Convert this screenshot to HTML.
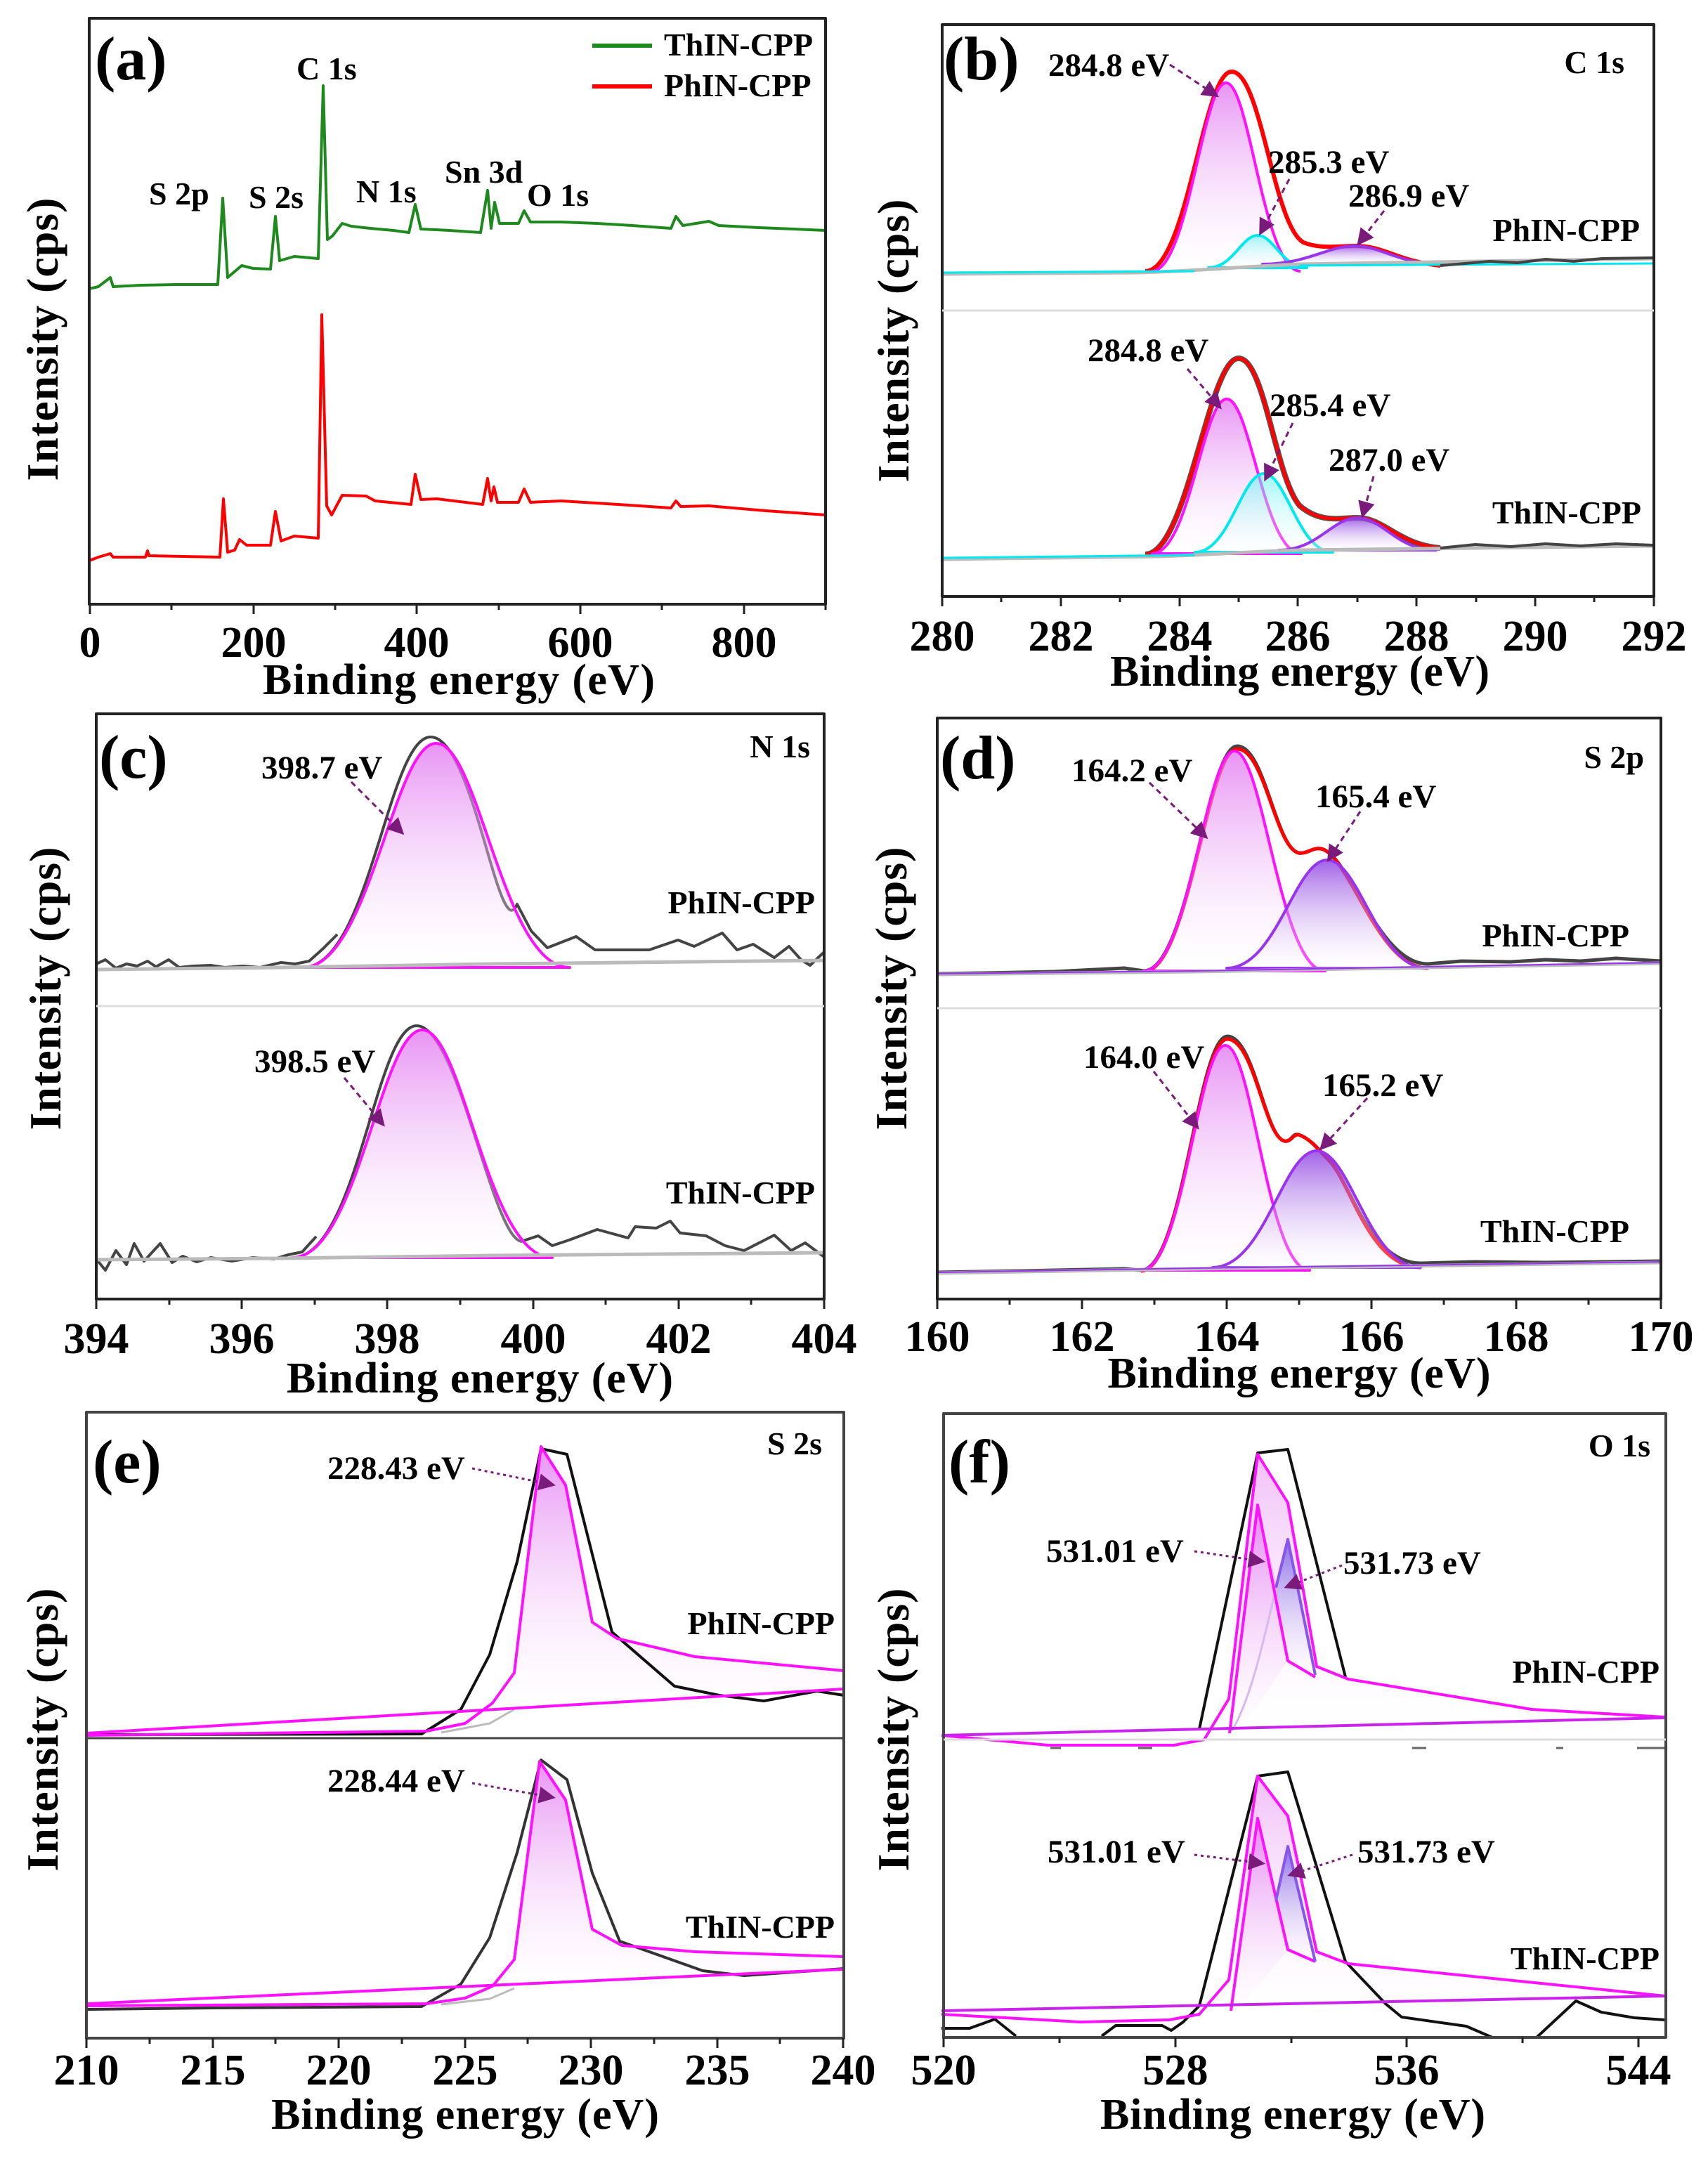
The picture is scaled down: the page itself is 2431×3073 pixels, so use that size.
<!DOCTYPE html>
<html><head><meta charset="utf-8"><style>html,body{margin:0;padding:0;background:#fff}svg{display:block}</style></head>
<body>
<svg width="2431" height="3073" viewBox="0 0 2431 3073" xmlns="http://www.w3.org/2000/svg" font-family="'Liberation Serif',serif" font-weight="bold">
<defs>
<linearGradient id="mg" x1="0" y1="0" x2="0" y2="1"><stop offset="0" stop-color="#e070f0" stop-opacity="0.75"/><stop offset="1" stop-color="#ffffff" stop-opacity="0.2"/></linearGradient>
<linearGradient id="pg" x1="0" y1="0" x2="0" y2="1"><stop offset="0" stop-color="#8a3ae0" stop-opacity="0.8"/><stop offset="1" stop-color="#ffffff" stop-opacity="0.2"/></linearGradient>
<linearGradient id="cg" x1="0" y1="0" x2="0" y2="1"><stop offset="0" stop-color="#60f0f0" stop-opacity="0.6"/><stop offset="1" stop-color="#ffffff" stop-opacity="0.2"/></linearGradient>
<linearGradient id="bg" x1="0" y1="0" x2="0" y2="1"><stop offset="0" stop-color="#6a50e0" stop-opacity="0.8"/><stop offset="1" stop-color="#ffffff" stop-opacity="0.2"/></linearGradient>
<marker id="ar" markerWidth="8" markerHeight="8" refX="6" refY="4" orient="auto" markerUnits="strokeWidth"><path d="M0,0 L8,4 L0,8 Z" fill="#7a1a7a"/></marker>
</defs>
<g fill="none" stroke-linejoin="round">

<!-- ===== (a) ===== -->
<polyline stroke="#1e8a1e" stroke-width="4" points="127,411 140,408 157,395 161,408 200,406 250,405 310,405 317,282 324,395 344,378 360,382 385,383 392,308 398,371 419,365 453,368 460,122 466,341 473,336 487,318 500,322 527,325 560,328 582,331 591,291 599,326 640,328 684,331 694,271 699,325 704,288 711,318 738,318 746,300 755,316 799,316 850,318 900,321 955,325 962,308 972,321 1009,315 1023,321 1080,324 1130,326 1176,328"/>
<polyline stroke="#ff0000" stroke-width="4" points="127,798 140,793 157,788 161,793 207,793 210,784 212,791 260,792 313,793 318,710 324,786 334,783 341,768 351,776 385,776 392,728 400,770 419,763 453,766 458,448 465,720 472,733 487,705 521,706 534,713 585,718 591,675 599,711 622,710 687,718 694,681 699,713 703,693 708,715 738,715 746,696 755,715 799,713 880,718 955,723 962,713 969,721 1009,720 1090,727 1176,733"/>
<rect x="127" y="26" width="1048" height="834" stroke="#222" stroke-width="4"/>
<line x1="843" y1="65" x2="928" y2="65" stroke="#1e8a1e" stroke-width="6"/>
<line x1="843" y1="123" x2="928" y2="123" stroke="#ff0000" stroke-width="6"/>
<path stroke="#222" stroke-width="3" d="M128,860v14M244,860v8M361,860v14M477,860v8M593,860v14M710,860v8M826,860v14M942,860v8M1059,860v14M1175,860v8"/>

<!-- ===== (b) ===== -->
<path d="M1630,386 C1690,386 1712,102 1753,102 C1795,102 1812,320 1855,345 C1880,355 1905,350 1930,350 C1970,350 1990,372 2050,378" stroke="#ff0000" stroke-width="6"/>
<path d="M1639,386 C1692,386 1711,118 1745,118 C1779,118 1798,386 1851,386 Z" fill="url(#mg)" stroke="none"/>
<path d="M1639,386 C1692,386 1711,118 1745,118 C1779,118 1798,386 1851,386" stroke="#ff10ff" stroke-width="4"/>
<path d="M1720,381 C1755,381 1767,335 1790,335 C1813,335 1825,381 1860,381 Z" fill="url(#cg)" stroke="#00e8f0" stroke-width="4"/>
<path d="M1797,376 C1860,376 1890,350 1928,350 C1966,350 1990,376 2053,376 Z" fill="url(#pg)" stroke="#9933ee" stroke-width="4"/>
<path d="M1341,390 L1620,388 C1700,386 1760,380 1850,376 L2354,368" stroke="#bbbbbb" stroke-width="5"/>
<path d="M1341,388 L1700,386 M1850,378 L2354,375" stroke="#00e8f0" stroke-width="3"/>
<path d="M2050,378 L2120,372 L2160,374 L2200,369 L2240,372 L2280,368 L2354,367" stroke="#444" stroke-width="4"/>
<path d="M1630,789 C1690,789 1720,510 1763,510 C1800,510 1815,680 1850,720 C1880,745 1905,737 1932,737 C1970,737 1990,775 2050,780" stroke="#555" stroke-width="8"/>
<path d="M1630,789 C1690,789 1720,510 1763,510 C1800,510 1815,680 1850,720 C1880,745 1905,737 1932,737 C1970,737 1990,775 2050,780" stroke="#ff0000" stroke-width="5"/>
<path d="M1640,788 C1693,788 1712,568 1746,568 C1780,568 1799,788 1852,788 Z" fill="url(#mg)" stroke="#ff10ff" stroke-width="4"/>
<path d="M1701,786 C1750,786 1767,674 1799,674 C1831,674 1848,786 1897,786 Z" fill="url(#cg)" stroke="#00e8f0" stroke-width="4"/>
<path d="M1820,783 C1876,783 1896,737 1932,737 C1968,737 1988,783 2044,783 Z" fill="url(#pg)" stroke="#9933ee" stroke-width="4"/>
<path d="M1341,796 L1650,792 C1720,790 1760,786 1850,783 L2354,777" stroke="#bbbbbb" stroke-width="5"/>
<path d="M1341,794 L1700,790" stroke="#00e8f0" stroke-width="3"/>
<path d="M2050,780 L2100,775 L2150,778 L2200,774 L2250,777 L2300,774 L2354,776" stroke="#444" stroke-width="4"/>
<rect x="1341" y="35" width="1013" height="814" stroke="#222" stroke-width="4"/>
<line x1="1341" y1="442" x2="2354" y2="442" stroke="#ddd" stroke-width="3"/>
<path stroke="#222" stroke-width="3" d="M1341,849v14M1425,849v8M1510,849v14M1594,849v8M1679,849v14M1763,849v8M1847,849v14M1932,849v8M2016,849v14M2101,849v8M2185,849v14M2269,849v8M2354,849v14"/>

<!-- ===== (c) ===== -->
<path d="M137,1372 L150,1366 165,1378 180,1372 195,1375 210,1368 222,1376 240,1366 255,1377 275,1375 300,1374 320,1377 345,1375 370,1377 400,1370 420,1372 440,1368 460,1350 480,1330" stroke="#444" stroke-width="4"/>
<path d="M431,1377 C526,1377 552,1049 613,1049 C674,1049 710,1350 736,1287 L756,1325 779,1349 820,1333 847,1352 924,1352 965,1338 988,1347 1028,1328 1049,1352 1072,1344 1102,1363 1123,1347 1140,1366 1153,1374 1173,1355" stroke="#444" stroke-width="4"/>
<path d="M431,1377 C526,1377 560,1058 621,1058 C682,1058 716,1377 811,1377 Z" fill="url(#mg)" stroke="#ff10ff" stroke-width="4"/>
<path d="M137,1380 L400,1377 L700,1372 L1173,1367" stroke="#bbbbbb" stroke-width="5"/>
<path d="M137,1792 L150,1808 165,1780 180,1800 191,1770 205,1795 228,1770 245,1797 260,1788 280,1796 300,1790 330,1795 360,1790 390,1792 410,1786 430,1782 450,1760" stroke="#444" stroke-width="4"/>
<path d="M416,1790 C509,1790 534,1460 593,1460 C652,1460 700,1760 742,1767 L766,1759 786,1773 810,1765 850,1750 894,1762 904,1746 934,1748 954,1738 968,1755 1005,1759 1032,1773 1059,1780 1102,1758 1126,1780 1146,1769 1173,1789" stroke="#444" stroke-width="4"/>
<path d="M416,1790 C509,1790 542,1466 601,1466 C660,1466 693,1790 786,1790 Z" fill="url(#mg)" stroke="#ff10ff" stroke-width="4"/>
<path d="M137,1793 L400,1791 L700,1787 L1173,1783" stroke="#bbbbbb" stroke-width="5"/>
<rect x="137" y="1016" width="1036" height="833" stroke="#222" stroke-width="4"/>
<line x1="137" y1="1432" x2="1173" y2="1432" stroke="#ddd" stroke-width="3"/>
<path stroke="#222" stroke-width="3" d="M137,1849v14M241,1849v8M344,1849v14M448,1849v8M551,1849v14M655,1849v8M759,1849v14M862,1849v8M966,1849v14M1069,1849v8M1173,1849v14"/>

<!-- ===== (d) ===== -->
<path d="M1334,1386 L1400,1385 L1500,1383 L1600,1378 L1628,1382 C1692,1382 1718,1062 1761,1062 C1800,1062 1815,1205 1848,1214 C1860,1216 1868,1206 1880,1208 C1920,1215 1961,1372 2032,1372 L2080,1368 L2150,1369 L2200,1366 L2250,1368 L2300,1364 L2364,1368" stroke="#444" stroke-width="5"/>
<path d="M1628,1383 C1692,1383 1718,1066 1761,1066 C1800,1066 1815,1205 1848,1214 C1860,1216 1868,1206 1880,1208 C1920,1215 1961,1378 2032,1378" stroke="#ff0000" stroke-width="5"/>
<path d="M1628,1382 C1692,1382 1716,1069 1757,1069 C1798,1069 1822,1382 1886,1382 Z" fill="url(#mg)" stroke="#ff10ff" stroke-width="4"/>
<path d="M1746,1378 C1817,1378 1843,1224 1889,1224 C1935,1224 1961,1378 2032,1378 Z" fill="url(#pg)" stroke="#9933ee" stroke-width="4"/>
<path d="M1334,1387 L1700,1383 L2364,1371" stroke="#bbbbbb" stroke-width="5"/>
<path d="M1334,1386 L1700,1382 L2364,1370" stroke="#9933ee" stroke-width="2"/>
<path d="M1334,1811 L1450,1809 L1600,1806 L1624,1808 C1684,1808 1705,1475 1747,1475 C1785,1475 1800,1618 1828,1624 C1838,1626 1840,1612 1848,1615 C1865,1620 1880,1640 1890,1650 C1922,1680 1948,1798 2022,1798 L2100,1796 L2200,1797 L2364,1795" stroke="#444" stroke-width="5"/>
<path d="M1624,1809 C1684,1809 1705,1479 1747,1479 C1785,1479 1800,1618 1828,1624 C1838,1626 1840,1614 1848,1615 C1865,1620 1880,1640 1890,1650 C1922,1680 1948,1804 2022,1804" stroke="#ff0000" stroke-width="5"/>
<path d="M1624,1808 C1684,1808 1705,1488 1744,1488 C1783,1488 1804,1808 1864,1808 Z" fill="url(#mg)" stroke="#ff10ff" stroke-width="4"/>
<path d="M1726,1804 C1800,1804 1826,1638 1874,1638 C1922,1638 1948,1804 2022,1804 Z" fill="url(#pg)" stroke="#9933ee" stroke-width="4"/>
<path d="M1334,1812 L1700,1806 L2364,1797" stroke="#bbbbbb" stroke-width="5"/>
<path d="M1334,1811 L1700,1805 L2364,1796" stroke="#9933ee" stroke-width="2"/>
<rect x="1334" y="1022" width="1030" height="827" stroke="#222" stroke-width="4"/>
<line x1="1334" y1="1435" x2="2364" y2="1435" stroke="#ddd" stroke-width="3"/>
<path stroke="#222" stroke-width="3" d="M1334,1849v14M1437,1849v8M1540,1849v14M1643,1849v8M1746,1849v14M1849,1849v8M1952,1849v14M2055,1849v8M2158,1849v14M2261,1849v8M2364,1849v14"/>

<!-- ===== (e) ===== -->
<polygon points="701,2424 732,2381 770,2059 805,2114 843,2309 878,2332 989,2358 1201,2378 1201,2404 701,2434" fill="url(#mg)" stroke="none"/>
<path d="M123,2469 L600,2468 L656,2433 L697,2355 L736,2223 L770,2062 L807,2070 L871,2323 L960,2400 L1024,2413 L1087,2421 L1163,2407 L1201,2413" stroke="#111" stroke-width="4"/>
<path d="M628,2466 L697,2453 L732,2433" stroke="#bbbbbb" stroke-width="3"/>
<path d="M123,2470 L607,2464 L662,2453 L701,2424 L732,2381 L770,2059 L805,2114 L843,2309 L878,2332 L989,2358 L1201,2378" stroke="#ff10ff" stroke-width="4"/>
<path d="M123,2467 L1201,2404" stroke="#ff10ff" stroke-width="4"/>
<polygon points="701,2827 732,2789 768,2507 805,2562 843,2746 885,2769 989,2778 1201,2785 1201,2803 701,2832" fill="url(#mg)" stroke="none"/>
<path d="M123,2860 L300,2858 L600,2856 L656,2824 L697,2758 L736,2637 L770,2505 L807,2533 L843,2666 L882,2763 L1000,2805 L1059,2812 L1201,2802" stroke="#333" stroke-width="4"/>
<path d="M628,2853 L697,2845 L732,2830" stroke="#bbbbbb" stroke-width="3"/>
<path d="M123,2855 L607,2852 L662,2844 L701,2827 L732,2789 L768,2507 L805,2562 L843,2746 L885,2769 L989,2778 L1201,2785" stroke="#ff10ff" stroke-width="4"/>
<path d="M123,2852 L1201,2803" stroke="#ff10ff" stroke-width="4"/>
<rect x="123" y="2010" width="1078" height="891" stroke="#444" stroke-width="4"/>
<line x1="123" y1="2474" x2="1201" y2="2474" stroke="#444" stroke-width="3"/>
<path stroke="#222" stroke-width="3" d="M123,2901v14M213,2901v8M303,2901v14M392,2901v8M482,2901v14M572,2901v8M662,2901v14M751,2901v8M841,2901v14M931,2901v8M1021,2901v14M1110,2901v8M1200,2901v14"/>

<!-- ===== (f) ===== -->
<polygon points="1749,2418 1790,2070 1833,2139 1874,2372 1919,2390 2180,2433 2370,2444 1749,2460" fill="url(#mg)" stroke="none" opacity="0.6"/>
<path d="M1750,2467 L1790,2142 L1816,2252 L1833,2364 L1760,2470 Z" fill="url(#mg)" stroke="none"/>
<path d="M1816,2260 L1833,2191 L1872,2384 L1833,2364 Z" fill="url(#bg)" stroke="none"/>
<path d="M1707,2461 L1790,2068 L1833,2063 L1915,2387" stroke="#111" stroke-width="4"/>
<path d="M1753,2464 C1780,2420 1800,2330 1816,2260" stroke="#d8b8f0" stroke-width="3"/>
<path d="M1340,2470 L1492,2484 L1671,2484 L1714,2476 L1749,2418 L1790,2070 L1833,2139 L1874,2372 L1919,2390 L2180,2433 L2370,2444" stroke="#ff10ff" stroke-width="4"/>
<path d="M1750,2467 L1790,2142 L1833,2364 L1872,2387" stroke="#ff10ff" stroke-width="4"/>
<path d="M1816,2260 L1833,2191 L1872,2384" stroke="#8855ee" stroke-width="4"/>
<path d="M1340,2470 L2370,2445" stroke="#cc22ee" stroke-width="4"/>
<path d="M1495,2488 L1510,2488 M1620,2488 L1640,2488 M2010,2488 L2030,2488 M2215,2488 L2225,2488 M2330,2488 L2370,2488" stroke="#666" stroke-width="3"/>
<polygon points="1749,2818 1790,2528 1833,2585 1874,2778 1919,2795 2370,2841 1749,2862" fill="url(#mg)" stroke="none" opacity="0.6"/>
<path d="M1752,2862 L1790,2588 L1816,2700 L1833,2775 L1760,2864 Z" fill="url(#mg)" stroke="none"/>
<path d="M1816,2705 L1833,2628 L1872,2792 L1833,2775 Z" fill="url(#bg)" stroke="none"/>
<path d="M1340,2887 L1380,2887 L1416,2874 L1446,2898 M1568,2898 L1588,2883 L1654,2883 L1667,2890 L1684,2878 L1707,2855 L1790,2528 L1833,2522 L1915,2792 L1972,2852 L1995,2871 L2087,2884 L2124,2900 M2187,2900 L2243,2848 L2279,2864 L2326,2872 L2370,2875" stroke="#111" stroke-width="4"/>
<path d="M1340,2867 L1538,2878 L1664,2875 L1707,2867 L1749,2818 L1790,2528 L1833,2585 L1874,2778 L1919,2795 L2370,2841" stroke="#ff10ff" stroke-width="4"/>
<path d="M1752,2862 L1790,2588 L1833,2775 L1872,2792" stroke="#ff10ff" stroke-width="4"/>
<path d="M1816,2705 L1833,2628 L1872,2792" stroke="#8855ee" stroke-width="4"/>
<path d="M1340,2862 L2370,2841" stroke="#cc22ee" stroke-width="4"/>
<rect x="1343" y="2012" width="1028" height="888" stroke="#444" stroke-width="4"/>
<line x1="1343" y1="2476" x2="2371" y2="2476" stroke="#ddd" stroke-width="3"/>
<path stroke="#222" stroke-width="3" d="M1343,2900v14M1508,2900v8M1673,2900v14M1838,2900v8M2002,2900v14M2167,2900v8M2332,2900v14"/>

<!-- arrows -->
<g stroke="#7a1a7a" stroke-width="3" stroke-dasharray="8,6" marker-end="url(#ar)">
<line x1="1665" y1="92" x2="1730" y2="135"/>
<line x1="1835" y1="255" x2="1795" y2="330"/>
<line x1="1970" y1="300" x2="1935" y2="345"/>
<line x1="1690" y1="525" x2="1735" y2="578"/>
<line x1="1840" y1="602" x2="1802" y2="680"/>
<line x1="1955" y1="678" x2="1940" y2="732"/>
<line x1="500" y1="1113" x2="571" y2="1184"/>
<line x1="490" y1="1534" x2="544" y2="1599"/>
<line x1="1636" y1="1114" x2="1715" y2="1190"/>
<line x1="1936" y1="1155" x2="1892" y2="1222"/>
<line x1="1642" y1="1525" x2="1703" y2="1603"/>
<line x1="1946" y1="1563" x2="1882" y2="1633"/>
</g>
<g stroke="#7a1a7a" stroke-width="3" stroke-dasharray="4,5" marker-end="url(#ar)">
<line x1="672" y1="2090" x2="785" y2="2113"/>
<line x1="672" y1="2538" x2="785" y2="2558"/>
<line x1="1700" y1="2208" x2="1795" y2="2222"/>
<line x1="1910" y1="2228" x2="1833" y2="2258"/>
<line x1="1700" y1="2640" x2="1795" y2="2652"/>
<line x1="1925" y1="2640" x2="1838" y2="2668"/>
</g>
</g>

<!-- ===== text ===== -->
<g fill="#000">
<g font-size="88"><text x="135" y="113">(a)</text><text x="1343" y="113">(b)</text><text x="141" y="1107">(c)</text><text x="1338" y="1108">(d)</text><text x="132" y="2110">(e)</text><text x="1350" y="2110">(f)</text></g>
<g font-size="46">
<text x="945" y="79">ThIN-CPP</text><text x="945" y="137">PhIN-CPP</text>
<text x="422" y="113">C 1s</text><text x="212" y="291">S 2p</text><text x="354" y="296">S 2s</text><text x="507" y="288">N 1s</text><text x="633" y="260">Sn 3d</text><text x="750" y="293">O 1s</text>
</g>
<g font-size="46" text-anchor="end">
<text x="2312" y="104">C 1s</text><text x="2334" y="343">PhIN-CPP</text><text x="2336" y="745">ThIN-CPP</text>
<text x="1153" y="1078">N 1s</text><text x="1160" y="1300">PhIN-CPP</text><text x="1160" y="1713">ThIN-CPP</text>
<text x="2340" y="1093">S 2p</text><text x="2319" y="1347">PhIN-CPP</text><text x="2319" y="1768">ThIN-CPP</text>
<text x="1170" y="2070">S 2s</text><text x="1188" y="2326">PhIN-CPP</text><text x="1188" y="2758">ThIN-CPP</text>
<text x="2349" y="2073">O 1s</text><text x="2362" y="2395">PhIN-CPP</text><text x="2362" y="2803">ThIN-CPP</text>
</g>
<g font-size="47">
<text x="1492" y="108">284.8 eV</text><text x="1805" y="246">285.3 eV</text><text x="1919" y="294">286.9 eV</text>
<text x="1548" y="514">284.8 eV</text><text x="1807" y="592">285.4 eV</text><text x="1891" y="670">287.0 eV</text>
<text x="372" y="1108">398.7 eV</text><text x="362" y="1526">398.5 eV</text>
<text x="1525" y="1112">164.2 eV</text><text x="1872" y="1149">165.4 eV</text><text x="1542" y="1520">164.0 eV</text><text x="1882" y="1560">165.2 eV</text>
<text x="466" y="2105">228.43 eV</text><text x="466" y="2550">228.44 eV</text>
<text x="1489" y="2223">531.01 eV</text><text x="1912" y="2240">531.73 eV</text><text x="1491" y="2651">531.01 eV</text><text x="1932" y="2651">531.73 eV</text>
</g>
<g font-size="62" text-anchor="middle">
<text x="128" y="935">0</text><text x="361" y="935">200</text><text x="593" y="935">400</text><text x="826" y="935">600</text><text x="1059" y="935">800</text>
<text x="1341" y="926">280</text><text x="1510" y="926">282</text><text x="1679" y="926">284</text><text x="1847" y="926">286</text><text x="2016" y="926">288</text><text x="2185" y="926">290</text><text x="2354" y="926">292</text>
<text x="137" y="1926">394</text><text x="344" y="1926">396</text><text x="551" y="1926">398</text><text x="759" y="1926">400</text><text x="966" y="1926">402</text><text x="1173" y="1926">404</text>
<text x="1334" y="1923">160</text><text x="1540" y="1923">162</text><text x="1746" y="1923">164</text><text x="1952" y="1923">166</text><text x="2158" y="1923">168</text><text x="2364" y="1923">170</text>
<text x="123" y="2967">210</text><text x="303" y="2967">215</text><text x="482" y="2967">220</text><text x="662" y="2967">225</text><text x="841" y="2967">230</text><text x="1021" y="2967">235</text><text x="1200" y="2967">240</text>
<text x="1343" y="2967">520</text><text x="1673" y="2967">528</text><text x="2002" y="2967">536</text><text x="2332" y="2967">544</text>
<text x="653" y="988" textLength="558">Binding energy (eV)</text>
<text x="1850" y="976" textLength="540">Binding energy (eV)</text>
<text x="683" y="1982" textLength="550">Binding energy (eV)</text>
<text x="1849" y="1975" textLength="545">Binding energy (eV)</text>
<text x="662" y="3030" textLength="552">Binding energy (eV)</text>
<text x="1840" y="3030" textLength="548">Binding energy (eV)</text>
</g>
<g font-size="64" text-anchor="middle">
<text transform="translate(82,483) rotate(-90)" textLength="403">Intensity (cps)</text>
<text transform="translate(1293,485) rotate(-90)" textLength="403">Intensity (cps)</text>
<text transform="translate(86,1407) rotate(-90)" textLength="403">Intensity (cps)</text>
<text transform="translate(1290,1407) rotate(-90)" textLength="403">Intensity (cps)</text>
<text transform="translate(82,2462) rotate(-90)" textLength="403">Intensity (cps)</text>
<text transform="translate(1293,2462) rotate(-90)" textLength="403">Intensity (cps)</text>
</g>
</g>
</svg>
</body></html>
